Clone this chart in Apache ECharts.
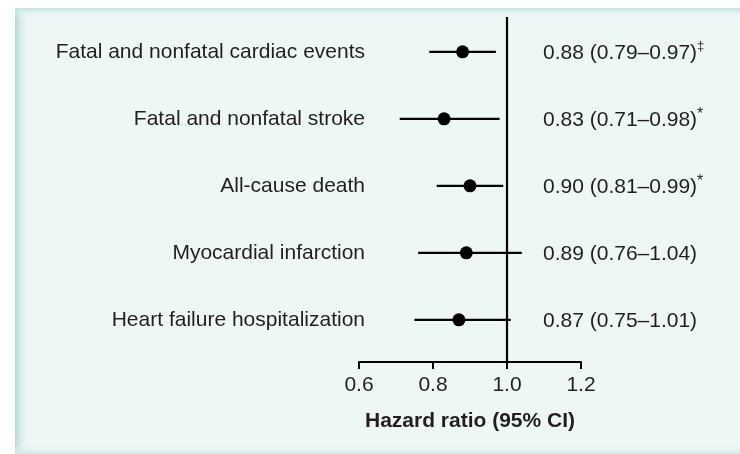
<!DOCTYPE html>
<html>
<head>
<meta charset="utf-8">
<script src="https://cdn.jsdelivr.net/npm/echarts@6/dist/echarts.min.js"></script>
<style>
html,body{margin:0;padding:0;background:#fff;}
#chart{width:740px;height:454px;}
</style>
</head>
<body>
<div id="chart"></div>
<script>
// ---- data ----
var categories = [
  'Fatal and nonfatal cardiac events',
  'Fatal and nonfatal stroke',
  'All-cause death',
  'Myocardial infarction',
  'Heart failure hospitalization'
];
var hazardRatio = [0.88, 0.83, 0.90, 0.89, 0.87];
var ciLower = [0.79, 0.71, 0.81, 0.76, 0.75];
var ciUpper = [0.97, 0.98, 0.99, 1.04, 1.01];
var significance = ['‡', '*', '*', '', ''];
var xTicks = [0.6, 0.8, 1.0, 1.2];

// ---- build ----
var TEXT = '#231f20';
var FONT = '"Liberation Sans", Arial, Helvetica, sans-serif';
var rows = categories.map(function (c, i) { return i + 1; });

function fmt(v) { return v.toFixed(2); }

var ciData = categories.map(function (c, i) {
  return [ciLower[i], ciUpper[i], rows[i], i];
});
var pointData = categories.map(function (c, i) {
  return [hazardRatio[i], rows[i]];
});

var chart = echarts.init(document.getElementById('chart'), null, {renderer: 'canvas'});

var option = {
  animation: false,
  backgroundColor: '#ffffff',
  graphic: [
    {type: 'rect', z: -10, silent: true, shape: {x: 15, y: 8, width: 725, height: 446}, style: {fill: '#edf7f6'}},
    {type: 'rect', z: -9, silent: true, shape: {x: 15, y: 8, width: 14, height: 446},
      style: {fill: new echarts.graphic.LinearGradient(0, 0, 1, 0, [{offset: 0, color: 'rgba(175,216,213,1)'}, {offset: 1, color: 'rgba(237,247,246,0)'}])}},
    {type: 'rect', z: -9, silent: true, shape: {x: 15, y: 8, width: 725, height: 10},
      style: {fill: new echarts.graphic.LinearGradient(0, 0, 0, 1, [{offset: 0, color: 'rgba(195,227,224,1)'}, {offset: 1, color: 'rgba(237,247,246,0)'}])}},
    {type: 'rect', z: -9, silent: true, shape: {x: 15, y: 444, width: 725, height: 10},
      style: {fill: new echarts.graphic.LinearGradient(0, 0, 0, 1, [{offset: 0, color: 'rgba(237,247,246,0)'}, {offset: 1, color: 'rgba(210,233,231,1)'}])}}
  ],
  grid: {left: 359, right: 159, top: 17, bottom: 92, containLabel: false},
  xAxis: {
    type: 'value',
    min: xTicks[0],
    max: xTicks[xTicks.length - 1],
    interval: 0.2,
    axisLine: {show: true, onZero: false, lineStyle: {color: '#000', width: 2}},
    axisTick: {show: true, inside: false, length: 7, lineStyle: {color: '#000', width: 2}},
    axisLabel: {
      color: TEXT, fontSize: 21, fontFamily: FONT, margin: 13,
      formatter: function (v) { return v.toFixed(1); }
    },
    splitLine: {show: false},
    name: 'Hazard ratio (95% CI)',
    nameLocation: 'middle',
    nameGap: 49,
    nameTextStyle: {color: TEXT, fontSize: 21, fontWeight: 'bold', fontFamily: FONT}
  },
  yAxis: {
    type: 'value',
    inverse: true,
    min: 0.48,
    max: 5.63,
    show: false,
    splitLine: {show: false}
  },
  series: [
    {
      type: 'custom',
      silent: true,
      data: ciData,
      renderItem: function (params, api) {
        var lo = api.coord([api.value(0), api.value(2)]);
        var hi = api.coord([api.value(1), api.value(2)]);
        var i = api.value(3);
        var left = api.coord([xTicks[0], api.value(2)]);
        var ref = api.coord([1.0, api.value(2)]);
        var sig = significance[i];
        var rightText = fmt(hazardRatio[i]) + ' (' + fmt(ciLower[i]) + '\u2013' + fmt(ciUpper[i]) + ')';
        return {
          type: 'group',
          children: [
            {type: 'line', shape: {x1: lo[0], y1: lo[1], x2: hi[0], y2: hi[1]}, style: {stroke: '#000', lineWidth: 2.2}},
            {type: 'text', x: left[0] + 6, y: left[1], style: {
              text: categories[i], fill: TEXT, font: '21px ' + FONT, align: 'right', verticalAlign: 'middle'}},
            {type: 'text', x: ref[0] + 36, y: ref[1], style: {
              text: '{m|' + rightText + '}' + (sig ? '{s|' + sig + '}' : ''),
              align: 'left', verticalAlign: 'middle',
              rich: {
                m: {fontSize: 21, fontFamily: FONT, fill: TEXT, color: TEXT, verticalAlign: 'bottom', lineHeight: 24},
                s: {fontSize: sig === '*' ? 16 : 13, fontFamily: FONT, fill: TEXT, color: TEXT, verticalAlign: 'top', lineHeight: 24}
              }}}
          ]
        };
      },
      markLine: {
        silent: true,
        symbol: ['none', 'none'],
        label: {show: false},
        lineStyle: {color: '#000', width: 2.2, type: 'solid'},
        data: [{xAxis: 1.0}]
      },
      z: 2
    },
    {
      type: 'scatter',
      data: pointData,
      symbol: 'circle',
      symbolSize: 13,
      itemStyle: {color: '#000', opacity: 1},
      z: 3
    }
  ]
};
chart.setOption(option);
</script>
</body>
</html>
